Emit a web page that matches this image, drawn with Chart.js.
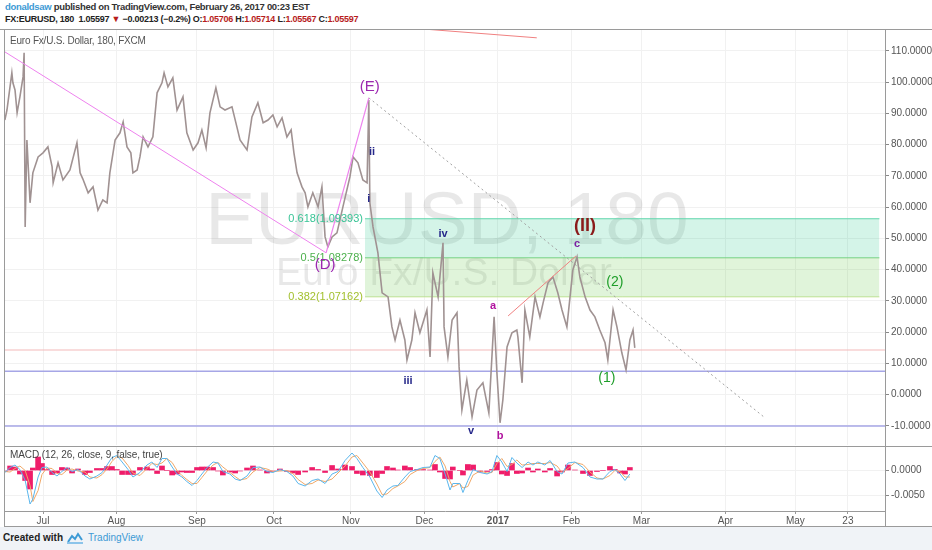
<!DOCTYPE html>
<html>
<head>
<meta charset="utf-8">
<script src="https://cdn.jsdelivr.net/npm/chart.js@4.4.0/dist/chart.umd.min.js"></script>
<style>
  body { margin: 0; width: 932px; height: 550px; position: relative; overflow: hidden; background: #fff; font-family: "Liberation Sans", Arial, sans-serif; }
  .abs { position: absolute; white-space: nowrap; }
  #line1 { left: 5px; top: 1px; font-size: 9.5px; letter-spacing: -0.3px; font-weight: bold; color: #333; }
  #line1 .user { color: #3d9ad5; }
  #line2 { left: 5px; top: 14px; font-size: 9px; letter-spacing: -0.25px; font-weight: bold; color: #222; }
  #line2 .red { color: #b71c1c; }
  .rule { position: absolute; background: #9a9a9a; }
  #legend { left: 10px; top: 35px; font-size: 10px; letter-spacing: -0.2px; color: #555; z-index: 3; }
  #macdTitle { left: 10px; top: 449px; font-size: 10px; letter-spacing: -0.1px; color: #444; z-index: 3; }
  #footer { position: absolute; left: 0; top: 527px; width: 932px; height: 23px; background: #f0f3f7; }
  #footer .c { position: absolute; left: 3px; top: 5px; font-size: 10px; font-weight: bold; color: #222; }
  #footer .t { position: absolute; left: 88px; top: 5px; font-size: 10px; color: #3d9ad5; }
  #footer svg { position: absolute; left: 66px; top: 4px; }
  canvas { position: absolute; left: 0; }
</style>
</head>
<body>
<div id="line1" class="abs"><span class="user">donaldsaw</span> published on TradingView.com, February 26, 2017 00:23 EST</div>
<div id="line2" class="abs">FX:EURUSD, 180&nbsp; 1.05597 <span class="red">▼</span> −0.00213 (−0.2%) O:<span class="red">1.05706</span> H:<span class="red">1.05714</span> L:<span class="red">1.05567</span> C:<span class="red">1.05597</span></div>

<canvas id="main" width="932" height="417" style="top:29px"></canvas>
<canvas id="macd" width="932" height="80" style="top:446px"></canvas>

<div class="rule" style="left:0;top:29px;width:932px;height:1px"></div>
<div class="rule" style="left:4px;top:29px;width:1px;height:497px"></div>
<div class="rule" style="left:885px;top:29px;width:1px;height:497px"></div>
<div class="rule" style="left:4px;top:446px;width:928px;height:1px"></div>
<div class="rule" style="left:4px;top:526px;width:928px;height:1px"></div>

<div id="legend" class="abs">Euro Fx/U.S. Dollar, 180, FXCM</div>
<div id="macdTitle" class="abs">MACD (12, 26, close, 9, false, true)</div>

<div id="footer">
  <span class="c">Created with</span>
  <svg width="18" height="14" viewBox="0 0 18 14"><path d="M2 11 L6 5 L9 8 L12 3 L16 9" fill="none" stroke="#3d9ad5" stroke-width="2"/><path d="M1 12 H17" stroke="#8cc4ea" stroke-width="2"/></svg>
  <span class="t">TradingView</span>
</div>

<script>
// time axis in trading days, 0 = 1 Jul 2016
const monthTicks = [0, 21, 44, 66, 88, 109, 130, 151, 171, 195, 215, 230];
const monthLabels = ['Jul', 'Aug', 'Sep', 'Oct', 'Nov', 'Dec', '2017', 'Feb', 'Mar', 'Apr', 'May', '23'];
const priceTicks = [-10, 0, 10, 20, 30, 40, 50, 60, 70, 80, 90, 100, 110];
const macdTicks = [-0.005, 0];

// price path
const priceX = [
  -10.9, -10.3, -8.9, -8.6, -8.0, -7.4, -6.6, -5.7, -5.4, -5.1,
  -4.6, -3.7, -2.9, -1.4, 0, 1.4, 2.6, 2.9, 4.3, 5.7,
  7.7, 9.7, 10.6, 11.4, 12.9, 14.3, 15.7, 17.1, 18.3, 19.1,
  20.6, 22.0, 22.9, 24.0, 25.1, 25.7, 26.9, 27.7, 28.6, 30.0,
  31.4, 32.6, 34.0, 34.6, 35.7, 37.1, 38.3, 40.0, 41.1, 42.9,
  44.3, 45.4, 46.6, 47.7, 49.4, 50.6, 52.0, 54.0, 55.4, 56.3,
  58.3, 59.7, 61.4, 62.9, 64.3, 65.7, 66.9, 68.3, 69.7, 70.9,
  71.7, 72.6, 74.0, 74.9, 75.7, 77.1, 78.6, 79.7, 80.6, 81.4,
  82.6, 84.0, 85.7, 87.7, 88.6, 90.0, 91.4, 92.6, 93.1, 93.4,
  94.3, 95.7, 96.9, 98.6, 99.7, 100.6, 102.0, 103.4, 104.0, 105.4,
  106.3, 107.7, 109.7, 110.6, 111.4, 112.9, 114.3, 114.6, 115.7, 116.9,
  118.3, 118.9, 119.7, 121.1, 122.6, 124.0, 125.7, 127.4, 128.9, 129.7,
  130.6, 131.4, 132.6, 134.0, 135.4, 135.7, 136.9, 137.7, 139.1, 140.6,
  142.0, 142.9, 144.3, 145.7, 147.1, 148.3, 149.7, 150.6, 151.4, 152.6,
  153.4, 154.9, 156.3, 157.7, 159.1, 160.6, 161.4, 162.9, 164.0, 165.4,
  166.6, 167.7, 168.6, 169.1
];
const priceY = [
  87.9, 91.1, 103.0, 99.8, 97.5, 90.2, 95.3, 101.7, 109.4, 53.7,
  81.5, 61.4, 71.0, 76.1, 77.4, 79.3, 72.9, 67.8, 74.2, 68.7,
  71.9, 80.6, 71.0, 69.0, 64.6, 66.5, 59.1, 62.3, 61.4, 71.0,
  81.5, 83.8, 87.3, 79.3, 77.4, 71.0, 71.9, 76.1, 82.5, 79.3,
  82.5, 96.6, 99.8, 103.0, 98.5, 101.4, 91.1, 95.3, 83.8, 78.3,
  80.6, 84.7, 79.0, 90.2, 98.2, 92.1, 91.1, 92.1, 85.7, 81.5,
  78.3, 88.9, 93.4, 87.0, 87.9, 89.5, 85.7, 88.6, 82.5, 84.7,
  77.4, 71.0, 66.5, 64.6, 60.1, 64.6, 60.1, 66.5, 50.5, 47.3,
  50.5, 51.8, 60.1, 69.7, 76.1, 74.2, 68.7, 67.8, 94.3, 61.4,
  53.7, 45.4, 32.6, 31.3, 21.7, 17.5, 23.9, 17.5, 11.1, 17.5,
  26.2, 19.8, 27.1, 12.1, 39.0, 31.3, 48.6, 21.7, 12.1, 23.9,
  26.2, 8.9, -4.9, 4.7, -7.1, 1.5, 3.8, -5.8, 24.9, 7.0,
  -9.0, -1.7, 15.3, 19.8, 20.7, 18.5, 3.8, 27.1, 18.5, 31.3,
  24.9, 29.4, 35.8, 37.7, 32.6, 27.1, 21.7, 31.3, 39.9, 44.1,
  37.7, 31.3, 27.1, 24.9, 20.7, 16.6, 11.1, 27.1, 21.7, 13.4,
  7.9, 17.5, 20.7, 15.0
];

// drawings on the price pane
const trendAD = [[-10.9, 109.7], [80.9, 45.4]];
const trendDE = [[80.9, 45.4], [93.1, 95.0]];
const dottedE = [[93.1, 95.0], [206.3, -7.4]];
const trendAC = [[132.9, 25.2], [152.3, 44.4]];
const trendTop = [[107.7, 117.1], [141.1, 114.2]];
const redLevel = 14.3;
const blueLevels = [7.5, -10.0];
const fibLevels = [56.3, 43.8, 31.3];
const fibText = ['0.618(1.09393)', '0.5(1.08278)', '0.382(1.07162)'];
const fibSpan = [92, 239];

const waveText = ['(E)', '(D)', 'ii', 'i', 'iv', 'iii', 'v', 'a', 'b', 'c', '(II)', '(2)', '(1)'];
const waveX = [93.4, 80.6, 94.0, 93.1, 114.3, 104.3, 122.3, 128.6, 130.6, 152.6, 154.9, 163.4, 161.1];
const waveY = [98.5, 41.5, 77.7, 62.7, 51.5, 4.4, -11.6, 28.4, -13.2, 48.3, 54.0, 36.1, 5.4];

// MACD pane
const macdX = [
  -10.9, -9.4, -8.0, -6.6, -5.1, -3.7, -2.9, -1.4, -0.3, 1.1,
  2.6, 4.0, 5.4, 6.9, 8.3, 10.0, 12.0, 13.4, 15.4, 16.9,
  18.3, 19.7, 21.1, 22.6, 24.3, 25.7, 27.7, 29.7, 31.1, 32.6,
  34.0, 35.4, 36.9, 38.3, 39.7, 41.1, 42.6, 44.0, 45.4, 46.9,
  48.6, 50.0, 51.4, 53.4, 54.9, 56.3, 58.3, 60.0, 62.0, 64.0,
  65.7, 67.7, 69.7, 71.4, 72.9, 74.9, 76.9, 78.6, 80.6, 82.6,
  84.3, 86.3, 88.3, 89.7, 91.4, 93.4, 95.4, 96.9, 98.3, 100.0,
  101.4, 103.4, 104.9, 106.9, 108.6, 110.6, 112.0, 113.4, 114.9, 116.3,
  117.1, 119.1, 120.0, 121.4, 122.9, 124.9, 126.9, 128.3, 129.7, 131.1,
  132.6, 134.0, 135.4, 136.9, 138.6, 140.0, 141.4, 143.4, 144.9, 146.9,
  148.3, 150.0, 152.0, 154.3, 156.3, 158.3, 160.0, 162.0, 163.4, 164.9,
  166.3, 167.7
];
const macdLine = [
  -0.0004, 0.0006, 0.0011, 0.0002, -0.0020, -0.0067, -0.0057, -0.0013, 0.0006, 0.0007,
  -0.0004, -0.0011, -0.0002, 0.0006, -0.0002, 0.0002, -0.0011, -0.0017, -0.0011, -0.0004,
  0.0011, 0.0026, 0.0030, 0.0017, 0.0002, -0.0013, -0.0004, 0.0011, 0.0017, 0.0006,
  0.0024, 0.0024, 0.0007, -0.0007, -0.0013, -0.0022, -0.0030, -0.0020, -0.0007, 0.0006,
  0.0017, 0.0015, -0.0002, -0.0007, -0.0017, -0.0020, -0.0011, 0.0006, 0.0007, -0.0002,
  -0.0004, 0.0002, -0.0002, -0.0011, -0.0026, -0.0031, -0.0020, -0.0017, -0.0026, -0.0007,
  -0.0002, 0.0020, 0.0035, 0.0024, 0.0006, -0.0013, -0.0041, -0.0054, -0.0039, -0.0031,
  -0.0030, -0.0013, -0.0002, 0.0002, 0.0006, 0.0007, 0.0030, 0.0024, -0.0007, -0.0039,
  -0.0026, -0.0026, -0.0044, -0.0020, 0.0002, -0.0004, -0.0007, -0.0002, 0.0030, 0.0017,
  -0.0002, 0.0026, 0.0015, 0.0006, 0.0017, 0.0011, 0.0017, 0.0011, 0.0020, -0.0002,
  -0.0007, 0.0015, 0.0017, 0.0006, -0.0013, -0.0017, -0.0017, -0.0002, 0.0002, -0.0007,
  -0.0020, -0.0007
];
const macdSignal = [
  -0.0002, -0.0003, 0.0004, 0.0009, 0.0000, -0.0030, -0.0062, -0.0040, -0.0008, 0.0005,
  0.0004, -0.0006, -0.0008, 0.0001, 0.0003, -0.0001, -0.0003, -0.0013, -0.0015, -0.0008,
  0.0003, 0.0018, 0.0028, 0.0025, 0.0010, -0.0005, -0.0010, 0.0004, 0.0014, 0.0012,
  0.0015, 0.0024, 0.0016, 0.0000, -0.0010, -0.0018, -0.0026, -0.0026, -0.0014, -0.0001,
  0.0011, 0.0016, 0.0007, -0.0004, -0.0012, -0.0019, -0.0016, -0.0003, 0.0006, 0.0003,
  -0.0002, -0.0001, 0.0000, -0.0006, -0.0018, -0.0028, -0.0026, -0.0019, -0.0022, -0.0017,
  -0.0005, 0.0009, 0.0027, 0.0030, 0.0015, -0.0003, -0.0027, -0.0048, -0.0047, -0.0036,
  -0.0031, -0.0022, -0.0008, 0.0000, 0.0004, 0.0006, 0.0018, 0.0027, 0.0009, -0.0022,
  -0.0033, -0.0026, -0.0035, -0.0032, -0.0009, -0.0001, -0.0005, -0.0004, 0.0014, 0.0024,
  0.0008, 0.0012, 0.0021, 0.0011, 0.0012, 0.0014, 0.0014, 0.0014, 0.0016, 0.0009,
  -0.0004, 0.0004, 0.0016, 0.0012, -0.0003, -0.0015, -0.0017, -0.0010, 0.0000, -0.0002,
  -0.0013, -0.0013
];
const macdHist = [
  -0.0002, 0.0009, 0.0007, -0.0007, -0.0020, -0.0037, 0.0005, 0.0027, 0.0014, 0.0002,
  -0.0008, -0.0005, 0.0006, 0.0005, -0.0005, 0.0003, -0.0008, -0.0004, 0.0004, 0.0004,
  0.0008, 0.0008, 0.0002, -0.0008, -0.0008, -0.0008, 0.0006, 0.0007, 0.0003, -0.0006,
  0.0009, 0.0000, -0.0009, -0.0007, -0.0003, -0.0004, -0.0004, 0.0006, 0.0007, 0.0007,
  0.0006, -0.0001, -0.0009, -0.0003, -0.0005, -0.0001, 0.0005, 0.0009, 0.0001, -0.0005,
  -0.0002, 0.0003, -0.0002, -0.0005, -0.0008, -0.0003, 0.0006, 0.0002, -0.0004, 0.0010,
  0.0003, 0.0011, 0.0008, -0.0006, -0.0009, -0.0010, -0.0014, -0.0006, 0.0008, 0.0005,
  0.0001, 0.0009, 0.0006, 0.0002, 0.0002, 0.0001, 0.0012, -0.0003, -0.0016, -0.0017,
  0.0007, 0.0000, -0.0009, 0.0012, 0.0011, -0.0003, -0.0002, 0.0002, 0.0016, -0.0007,
  -0.0010, 0.0014, -0.0006, -0.0005, 0.0005, -0.0003, 0.0003, -0.0003, 0.0004, -0.0011,
  -0.0003, 0.0011, 0.0001, -0.0006, -0.0010, -0.0002, 0.0000, 0.0008, 0.0002, -0.0005,
  -0.0007, 0.0006
];

const X_MIN = -10.86, X_MAX = 240.6;
const pts = (arr) => arr.map(p => ({ x: p[0], y: p[1] }));
const zip = (xs, ys) => xs.map((x, i) => ({ x: x, y: ys[i] }));
const setTicks = (vals) => (scale) => { scale.ticks = vals.map(v => ({ value: v })); };
const noPad = (s) => { s.paddingTop = 0; s.paddingBottom = 0; s.paddingLeft = 0; s.paddingRight = 0; };

const waveStyle = {
  '(E)': ['15px "Liberation Sans"', '#9c27b0'],
  '(D)': ['15px "Liberation Sans"', '#9c27b0'],
  'ii': ['bold 11px "Liberation Sans"', '#26288a'],
  'i': ['bold 11px "Liberation Sans"', '#26288a'],
  'iv': ['bold 11px "Liberation Sans"', '#26288a'],
  'iii': ['bold 11px "Liberation Sans"', '#26288a'],
  'v': ['bold 11px "Liberation Sans"', '#26288a'],
  'a': ['bold 11px "Liberation Sans"', '#b0119e'],
  'b': ['bold 11px "Liberation Sans"', '#b0119e'],
  'c': ['bold 11px "Liberation Sans"', '#7b1fa2'],
  '(II)': ['bold 18px "Liberation Sans"', '#8b1a1a'],
  '(2)': ['14px "Liberation Sans"', '#1f9e2a'],
  '(1)': ['14px "Liberation Sans"', '#1f9e2a']
};
const fibColors = ['#39c496', '#4cb04c', '#a3c02f'];

// watermark + text labels
const marks = {
  id: 'marks',
  beforeDatasetsDraw(chart) {
    const ctx = chart.ctx;
    ctx.save();
    ctx.fillStyle = 'rgba(0,0,0,0.09)';
    ctx.textAlign = 'center';
    ctx.textBaseline = 'alphabetic';
    ctx.font = '75px "Liberation Sans"';
    ctx.fillText('EURUSD, 180', 447, 215);
    ctx.font = '39px "Liberation Sans"';
    ctx.fillText('Euro Fx/U.S. Dollar', 444, 256);
    ctx.restore();
  },
  afterDatasetsDraw(chart) {
    const ctx = chart.ctx, xs = chart.scales.x, ys = chart.scales.y;
    ctx.save();
    ctx.textBaseline = 'middle';
    ctx.textAlign = 'right';
    ctx.font = '11px "Liberation Sans"';
    fibLevels.forEach((lv, i) => {
      ctx.fillStyle = fibColors[i];
      ctx.fillText(fibText[i], xs.getPixelForValue(fibSpan[0]) - 2, ys.getPixelForValue(lv));
    });
    ctx.textAlign = 'center';
    waveText.forEach((t, i) => {
      ctx.font = waveStyle[t][0];
      ctx.fillStyle = waveStyle[t][1];
      ctx.fillText(t, xs.getPixelForValue(waveX[i]), ys.getPixelForValue(waveY[i]));
    });
    ctx.restore();
  }
};

const flat = (lv) => [{ x: fibSpan[0], y: lv }, { x: fibSpan[1], y: lv }];
const across = (lv) => [{ x: X_MIN, y: lv }, { x: X_MAX, y: lv }];

new Chart(document.getElementById('main'), {
  type: 'line',
  data: {
    datasets: [
      { data: flat(fibLevels[0]), borderColor: '#5fd6ad', borderWidth: 1, fill: '+1', backgroundColor: 'rgba(40,200,140,0.2)', order: 10 },
      { data: flat(fibLevels[1]), borderColor: '#7fd07f', borderWidth: 1, fill: '+1', backgroundColor: 'rgba(100,200,70,0.2)', order: 10 },
      { data: flat(fibLevels[2]), borderColor: '#cfe6a0', borderWidth: 1, fill: false, order: 10 },
      { data: across(redLevel), borderColor: '#f3b9b9', borderWidth: 1, order: 9 },
      { data: across(blueLevels[0]), borderColor: '#a6a6e6', borderWidth: 1.5, order: 9 },
      { data: across(blueLevels[1]), borderColor: '#a6a6e6', borderWidth: 1.5, order: 9 },
      { data: pts(dottedE), borderColor: '#a0a0a0', borderWidth: 1, borderDash: [2, 3], order: 8 },
      { data: zip(priceX, priceY), borderColor: '#a09292', borderWidth: 1.6, order: 5 },
      { data: pts(trendAD), borderColor: '#ee82ee', borderWidth: 1, order: 1 },
      { data: pts(trendDE), borderColor: '#ee82ee', borderWidth: 1.2, order: 1 },
      { data: pts(trendAC), borderColor: '#f08080', borderWidth: 1, order: 1 },
      { data: pts(trendTop), borderColor: '#f08080', borderWidth: 1, order: 1 }
    ]
  },
  options: {
    responsive: false,
    animation: false,
    devicePixelRatio: 1,
    layout: { padding: { left: 5, top: 1, right: 0, bottom: 1 } },
    elements: { point: { radius: 0 }, line: { tension: 0 } },
    plugins: { legend: { display: false }, tooltip: { enabled: false } },
    scales: {
      x: {
        type: 'linear', min: X_MIN, max: X_MAX, offset: false,
        afterBuildTicks: setTicks(monthTicks),
        afterFit: (s) => { s.height = 0; noPad(s); },
        ticks: { display: false },
        grid: { color: '#f1f1f1', drawTicks: false, offset: false },
        border: { display: false }
      },
      y: {
        position: 'right', min: -16.1, max: 116.7,
        afterBuildTicks: setTicks(priceTicks),
        afterFit: (s) => { s.width = 47; noPad(s); },
        ticks: { font: { size: 10, family: 'Liberation Sans' }, color: '#555', padding: 2, callback: (v) => v.toFixed(4) },
        grid: { color: '#f1f1f1', tickColor: '#888', tickLength: 4 },
        border: { display: false }
      }
    }
  },
  plugins: [marks]
});

new Chart(document.getElementById('macd'), {
  type: 'line',
  data: {
    datasets: [
      { type: 'bar', data: zip(macdX, macdHist), backgroundColor: '#ef1d6a', barThickness: 5, order: 3 },
      { data: zip(macdX, macdSignal), borderColor: '#f0a868', borderWidth: 1, order: 2 },
      { data: zip(macdX, macdLine), borderColor: '#5ab6ec', borderWidth: 1, order: 1 }
    ]
  },
  options: {
    responsive: false,
    animation: false,
    devicePixelRatio: 1,
    layout: { padding: { left: 5, top: 1, right: 0, bottom: 0 } },
    elements: { point: { radius: 0 }, line: { tension: 0 } },
    plugins: { legend: { display: false }, tooltip: { enabled: false } },
    scales: {
      x: {
        type: 'linear', min: X_MIN, max: X_MAX, offset: false,
        afterBuildTicks: setTicks(monthTicks),
        afterFit: (s) => { s.height = 15; noPad(s); },
        ticks: {
          autoSkip: false, maxRotation: 0, padding: 1, color: '#555',
          font: (c) => ({ size: 10, family: 'Liberation Sans', weight: c.tick && c.tick.value === 130 ? 'bold' : 'normal' }),
          callback: (v) => monthLabels[monthTicks.indexOf(v)]
        },
        grid: { color: '#f1f1f1', tickColor: '#999', tickLength: 3, offset: false },
        border: { color: '#9a9a9a' }
      },
      y: {
        position: 'right', min: -0.0081, max: 0.0047,
        afterBuildTicks: setTicks(macdTicks),
        afterFit: (s) => { s.width = 47; noPad(s); },
        ticks: { font: { size: 10, family: 'Liberation Sans' }, color: '#555', padding: 2, callback: (v) => v.toFixed(4) },
        grid: { color: '#f1f1f1', tickColor: '#888', tickLength: 4 },
        border: { display: false }
      }
    }
  }
});
</script>
</body>
</html>
